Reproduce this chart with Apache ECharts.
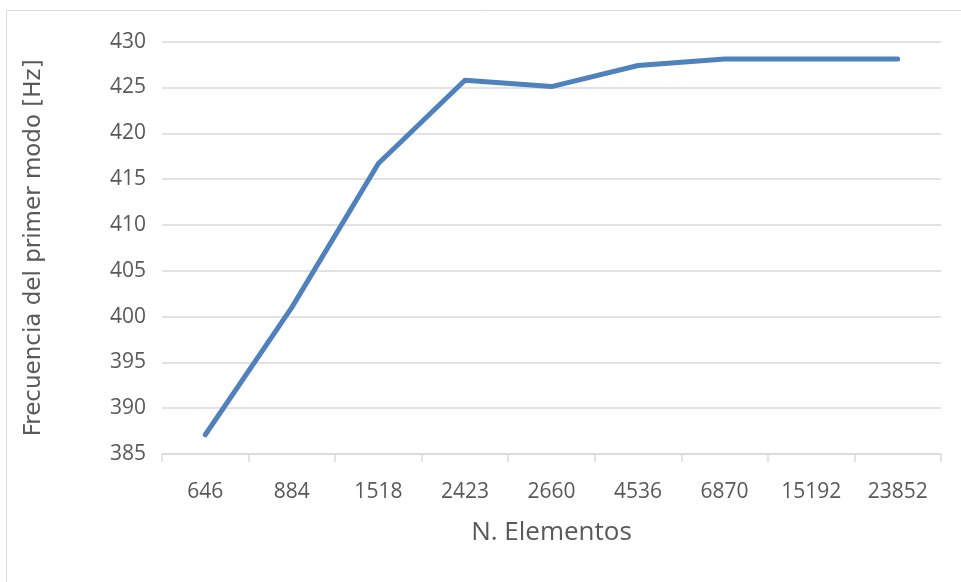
<!DOCTYPE html>
<html>
<head>
<meta charset="utf-8">
<script src="https://cdn.jsdelivr.net/npm/echarts@6/dist/echarts.min.js"></script>
<style>
html,body{margin:0;padding:0;background:#fff;}
#chart{width:961px;height:582px;}
</style>
</head>
<body>
<div id="chart"></div>
<script>
const categories = ['646', '884', '1518', '2423', '2660', '4536', '6870', '15192', '23852'];
const frecuencia = [387.1, 401.0, 416.7, 425.8, 425.1, 427.4, 428.1, 428.1, 428.1];
const yMin = 385, yMax = 430, yStep = 5;
const xTitle = 'N. Elementos';
const yTitle = 'Frecuencia del primer modo [Hz]';

const labelFont = "'Open Sans', sans-serif";
const chart = echarts.init(document.getElementById('chart'), null, {renderer: 'canvas'});
chart.setOption({
  backgroundColor: '#fff',
  animation: false,
  graphic: [{
    type: 'rect',
    shape: {x: 6.5, y: 10.5, width: 980, height: 600},
    style: {fill: 'none', stroke: '#d9d9d9', lineWidth: 1}
  }],
  grid: {left: 162, right: 20, top: 41.7, bottom: 128},
  xAxis: {
    type: 'category',
    data: categories,
    boundaryGap: true,
    axisLine: {lineStyle: {color: '#d9d9d9', width: 1.5}},
    axisTick: {show: true, length: 8, lineStyle: {color: '#d9d9d9', width: 1.5}},
    axisLabel: {color: '#595959', fontSize: 21, fontFamily: labelFont, margin: 28},
    name: xTitle,
    nameLocation: 'middle',
    nameGap: 66,
    nameTextStyle: {color: '#595959', fontSize: 26, fontFamily: labelFont}
  },
  yAxis: {
    type: 'value',
    min: yMin, max: yMax, interval: yStep,
    axisLine: {show: false},
    axisTick: {show: false},
    splitLine: {lineStyle: {color: '#d9d9d9', width: 1.5}},
    axisLabel: {color: '#595959', fontSize: 21, fontFamily: labelFont, margin: 16},
    name: yTitle,
    nameLocation: 'middle',
    nameGap: 116,
    nameTextStyle: {color: '#595959', fontSize: 23, fontFamily: "'DejaVu Sans', sans-serif"}
  },
  series: [{
    type: 'line',
    data: frecuencia,
    showSymbol: false,
    symbol: 'none',
    lineStyle: {color: '#4f81bd', width: 5, cap: 'round', join: 'round'}
  }]
});
</script>
</body>
</html>
